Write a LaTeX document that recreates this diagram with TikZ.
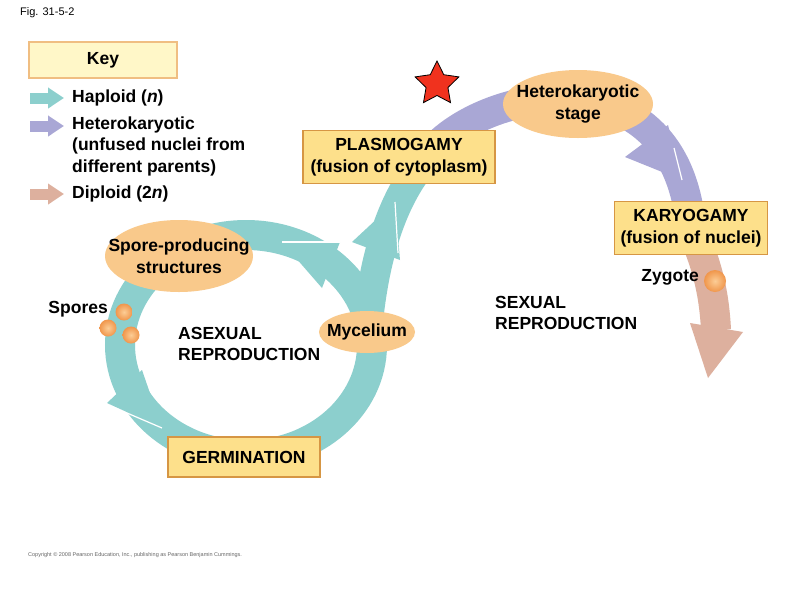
\documentclass[tikz,border=0pt]{standalone}
\usepackage{fontspec}
\setmainfont{Liberation Sans}
\usetikzlibrary{shapes.geometric,arrows.meta,backgrounds}
\definecolor{haploid}{RGB}{140,207,205}
\definecolor{hetero}{RGB}{169,167,213}
\definecolor{diploid}{RGB}{221,176,158}
\definecolor{blobfill}{RGB}{249,201,139}
\definecolor{boxfill}{RGB}{253,224,139}
\definecolor{boxline}{RGB}{214,150,68}
\definecolor{keyfill}{RGB}{255,247,200}
\definecolor{keyline}{RGB}{240,190,130}
\definecolor{starred}{RGB}{240,50,30}
\definecolor{sporein}{RGB}{252,205,150}
\definecolor{sporeout}{RGB}{240,150,75}
\tikzset{
  lbl/.style={font=\bfseries\fontsize{17.5}{21.5}\selectfont,inner sep=0pt},
  stagebox/.style={lbl,draw=boxline,fill=boxfill,line width=1.5pt,align=center},
  blob/.style={lbl,ellipse,fill=blobfill,align=center,inner xsep=-25pt,inner ysep=0pt},
  band/.style={line width=30pt},
  spore/.style={circle,shade,inner color=sporein,outer color=sporeout,minimum size=#1,inner sep=0pt},
  fold/.style={white,line width=1.2pt}
}
\begin{document}
\begin{tikzpicture}[x=1pt,y=-1pt]
\useasboundingbox (0,0) rectangle (800,600);
\node[font=\fontsize{11}{13}\selectfont,anchor=west,inner sep=0pt] (fig) at (20,13) {Fig. 31-5-2};
\node[lbl,draw=keyline,fill=keyfill,line width=1.5pt,minimum width=148pt,minimum height=36pt] (key) at (103,60) {Key};
\foreach \c/\y in {haploid/98,hetero/126,diploid/194} {\draw[line width=11pt,-{Triangle[length=16pt,width=20pt]},\c] (30,\y) -- (64,\y);}
\node[lbl,anchor=west] (hap) at (72,98) {Haploid (\textit{n})};
\node[lbl,anchor=west,align=left] (het) at (72,146) {Heterokaryotic\\(unfused nuclei from\\different parents)};
\node[lbl,anchor=west] (dip) at (72,194) {Diploid (2\textit{n})};

\node[blob,minimum width=150pt,minimum height=68pt] (hstage) at (578,104) {Heterokaryotic\\stage};
\node[blob,minimum width=148pt,minimum height=72pt] (sps) at (179,256) {Spore-producing\\structures};
\node[blob,minimum width=96pt,minimum height=42pt] (myc) at (367,332) {Mycelium};
\node[stagebox,minimum width=192pt,minimum height=53pt] (plasmo) at (399,157) {PLASMOGAMY\\(fusion of cytoplasm)};
\node[stagebox,minimum width=153pt,minimum height=53pt] (karyo) at (691,228) {KARYOGAMY\\(fusion of nuclei)};
\node[stagebox,minimum width=152pt,minimum height=40pt] (germ) at (244,457) {GERMINATION};
\node[star,star points=5,star point ratio=2,fill=starred,draw=black,thick,minimum size=46pt,inner sep=0pt] (star) at (437,84) {};

\node[lbl,anchor=west,align=left] (asex) at (178,344) {ASEXUAL\\REPRODUCTION};
\node[lbl,anchor=west,align=left] (sex) at (495,313) {SEXUAL\\REPRODUCTION};
\node[lbl,anchor=east] (sporetxt) at (108,309) {Spores};
\node[lbl,anchor=east] (zygtxt) at (699,277) {Zygote};
\foreach \p [count=\i] in {(124,312),(108,328),(131,335)} {\node[spore=17pt] (spore\i) at \p {};}
\node[spore=22pt] (zygote) at (715,281) {};
\node[font=\fontsize{5.5}{6}\selectfont,text=black!60,anchor=west,inner sep=0pt] (copy) at (28,555) {Copyright \textcopyright\ 2008 Pearson Education, Inc., publishing as Pearson Benjamin Cummings.};

\begin{scope}[on background layer]
\fill[white] (0,0) rectangle (800,600);
\draw[band,haploid] (246,345) ellipse [x radius=126,y radius=110];
\draw[band,haploid] (myc.center) .. controls (374,250) and (395,195) .. (425,160);
\draw[band,hetero] (425,160) .. controls (470,90) and (675,45) .. (karyo.center);
\draw[band,diploid] (karyo.center) .. controls (706,262) and (714,290) .. (716,330);
\fill[haploid] (282,242) -- (340,242) -- (322,288) -- cycle;
\draw[fold] (282,242) -- (340,242);
\fill[haploid] (395,202) -- (352,242) -- (400,260) -- cycle;
\draw[fold] (395,202) -- (398,253);
\fill[haploid] (162,428) -- (107,403) -- (142,370) -- cycle;
\draw[fold] (162,428) -- (127,413);
\fill[hetero] (682,180) -- (625,157) -- (668,125) -- cycle;
\draw[fold] (682,180) -- (674,148);
\fill[diploid] (690,323) -- (743,332) -- (708,378) -- cycle;
\end{scope}
\end{tikzpicture}
\end{document}
